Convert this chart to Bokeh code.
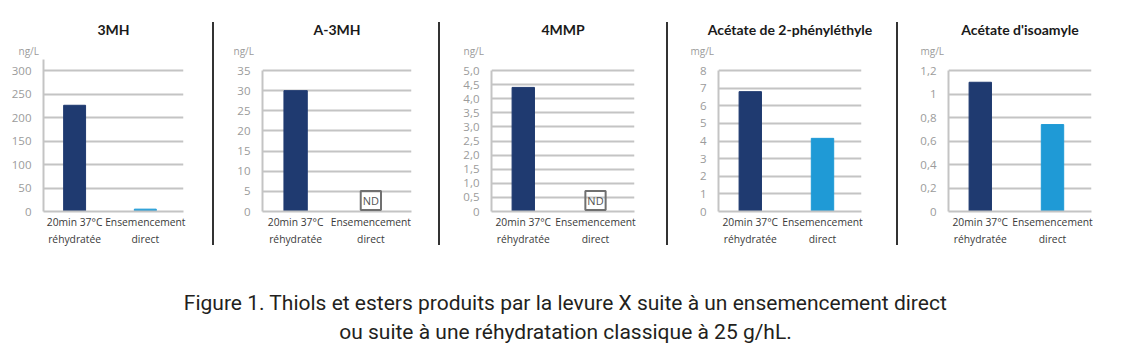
from bokeh.plotting import figure
from bokeh.models import Range1d, FixedTicker, Label, ColumnDataSource, Div, Spacer, Title
from bokeh.layouts import row, column
from bokeh.embed import file_html
from bokeh.resources import INLINE

# ---------------- data ----------------
categories = ["20min 37°C\nréhydratée", "Ensemencement\ndirect"]
titles = ["3MH", "A-3MH", "4MMP", "Acétate de 2-phényléthyle", "Acétate d'isoamyle"]
units = ["ng/L", "ng/L", "ng/L", "mg/L", "mg/L"]
rehydrated = [226, 30, 4.4, 6.8, 1.1]
direct = [5, None, None, 4.15, 0.74]   # None = ND (non détecté)
y_ticks = [
    [0, 50, 100, 150, 200, 250, 300],
    [0, 5, 10, 15, 20, 25, 30, 35],
    [0, 0.5, 1.0, 1.5, 2.0, 2.5, 3.0, 3.5, 4.0, 4.5, 5.0],
    [0, 1, 2, 3, 4, 5, 6, 7, 8],
    [0, 0.2, 0.4, 0.6, 0.8, 1.0, 1.2],
]
y_tick_labels = [
    ["0", "50", "100", "150", "200", "250", "300"],
    ["0", "5", "10", "15", "20", "25", "30", "35"],
    ["0", "0,5", "1,0", "1,5", "2,0", "2,5", "3,0", "3,5", "4,0", "4,5", "5,0"],
    ["0", "1", "2", "3", "4", "5", "6", "7", "8"],
    ["0", "0,2", "0,4", "0,6", "0,8", "1", "1,2"],
]
axis_top = [323, 35, 5.0, 8, 1.2]
caption = ["Figure 1. Thiols et esters produits par la levure X suite à un ensemencement direct",
           "ou suite à une réhydratation classique à 25 g/hL."]

# ---------------- styles / layout ----------------
NAVY = "#1f3a70"
BLUE = "#1f9ad6"
GRID = "#c4c4c4"
TICK = "#9b9b9b"
DARK = "#3a3a3a"

left_b = [43, 48, 51, 50, 50]
frame_w = [140, 149, 143, 143, 143]
right_b = [29, 27, 32, 35, 44]
TOP_B, FRAME_H, BOTTOM_B = 59, 152, 51
PLOT_H = 141          # pixel height from 0 to the highest tick
title_off = [-6, -1, 2, -7, -2]
unit_off = [-25, -29, -28, -28, -28]

panels = []
for i in range(5):
    top_tick = y_ticks[i][-1]
    y_end = top_tick * FRAME_H / PLOT_H
    p = figure(frame_width=frame_w[i], frame_height=FRAME_H,
               min_border_left=left_b[i], min_border_right=right_b[i],
               min_border_top=TOP_B, min_border_bottom=BOTTOM_B,
               x_range=Range1d(0.56, 2.54), y_range=Range1d(0, y_end),
               title=None, output_backend="svg", toolbar_location=None)
    p.outline_line_color = None
    p.background_fill_color = "white"
    p.border_fill_color = "white"

    # unit (nearest to the frame), then panel title above it
    p.add_layout(Title(text=units[i], align="left", offset=unit_off[i], standoff=3,
                       text_font="Open Sans", text_font_size="10px",
                       text_font_style="normal", text_color=TICK), "above")
    p.add_layout(Title(text=titles[i], align="center", offset=title_off[i], standoff=6,
                       text_font="Lato", text_font_style="bold", text_font_size="14px",
                       text_color="#1a1a1a"), "above")

    xs = [1]
    tops = [rehydrated[i]]
    cols = [NAVY]
    if direct[i] is not None:
        xs.append(2)
        tops.append(direct[i])
        cols.append(BLUE)
    src = ColumnDataSource(dict(x=xs, top=tops, color=cols))
    p.vbar(x="x", top="top", width=0.31, color="color", source=src)

    if direct[i] is None:
        p.add_layout(Label(x=2, y=0, text="ND", text_align="center", text_baseline="middle",
                           y_offset=11, text_font="Open Sans", text_font_size="11px",
                           text_color="#555555", border_line_color="#707070",
                           border_line_width=2, padding=2))

    # axes
    p.xaxis.ticker = FixedTicker(ticks=[1, 2])
    p.xaxis.major_label_overrides = {1: categories[0], 2: categories[1]}
    p.xaxis.major_label_text_font = "Open Sans"
    p.xaxis.major_label_text_font_size = "10.3px"
    p.xaxis.major_label_text_line_height = 1.25
    p.xaxis.major_label_text_color = DARK
    p.xaxis.major_label_standoff = -3
    p.xaxis.major_tick_line_color = None
    p.xaxis.minor_tick_line_color = None
    p.xaxis.axis_line_color = GRID
    p.xaxis.axis_line_width = 2

    p.yaxis.ticker = FixedTicker(ticks=y_ticks[i])
    p.yaxis.bounds = (0, axis_top[i])
    p.yaxis.major_label_overrides = dict(zip(y_ticks[i], y_tick_labels[i]))
    p.yaxis.major_label_text_font = "Open Sans"
    p.yaxis.major_label_text_font_size = "11.5px"
    p.yaxis.major_label_text_color = TICK
    p.yaxis.major_label_standoff = 6
    p.yaxis.major_tick_line_color = None
    p.yaxis.minor_tick_line_color = None
    p.yaxis.axis_line_color = GRID
    p.yaxis.axis_line_width = 2

    p.xgrid.grid_line_color = None
    p.ygrid.grid_line_color = GRID
    p.ygrid.grid_line_width = 2
    panels.append(p)


def separator():
    return column(Spacer(width=2, height=22),
                  Div(text="", width=2, height=223, margin=0,
                      styles={"background-color": "#333333"}),
                  spacing=0)


children = []
for i, p in enumerate(panels):
    if i > 0:
        children.append(separator())
    children.append(p)

cap = figure(frame_width=1135, frame_height=90, min_border=0,
             x_range=Range1d(0, 1), y_range=Range1d(0, 1),
             output_backend="svg", toolbar_location=None)
cap.axis.visible = False
cap.grid.grid_line_color = None
cap.outline_line_color = None
for txt, yy in zip(caption, [50, 21]):
    cap.add_layout(Label(x=565, y=yy, x_units="screen", y_units="screen", text=txt,
                         text_align="center", text_baseline="alphabetic",
                         text_font="Roboto", text_font_size="21px",
                         text_color="#231f20"))

layout = column(row(*children, spacing=0), cap, spacing=0)
open("out.html", "w").write(file_html(layout, INLINE))
